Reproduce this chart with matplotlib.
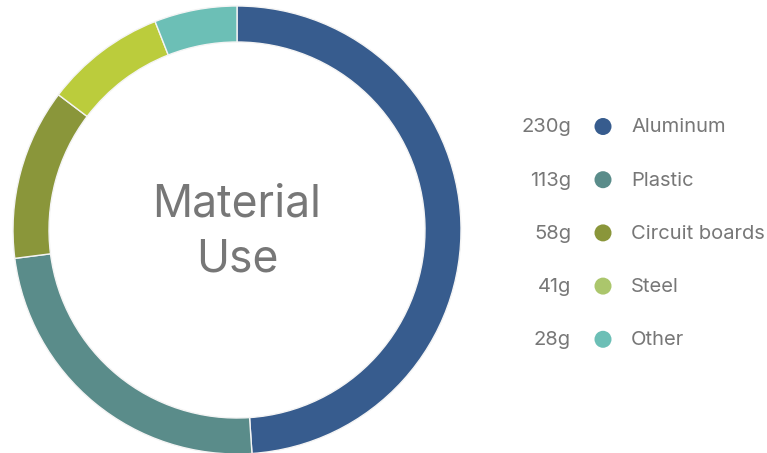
import matplotlib.pyplot as plt

labels = ['Aluminum', 'Plastic', 'Circuit boards', 'Steel', 'Other']
grams = [230, 113, 58, 41, 28]
ring_colors = ['#375c8e', '#5a8c8a', '#8a963a', '#bbcc3c', '#6cbfb6']
dot_colors = ['#375c8e', '#5a8c8a', '#8a963a', '#abc66c', '#6cbfb6']

plt.rcParams['font.family'] = ['Inter', 'DejaVu Sans']
grey = '#777777'

fig = plt.figure(figsize=(7.67, 4.53), dpi=100)
W, H = 767, 453

# donut
cx, cy, r = 237, 230, 224
ax = fig.add_axes([(cx - r) / W, (H - cy - r) / H, 2 * r / W, 2 * r / H])
ax.pie(grams, colors=ring_colors, startangle=90, counterclock=False, radius=1,
       wedgeprops=dict(width=36 / r, edgecolor='#f4f4f4', linewidth=1))
ax.set_aspect('equal')
ax.set_xlim(-1, 1)
ax.set_ylim(-1, 1)
ax.text(0, -0.01, 'Material\nUse', ha='center', va='center', fontsize=32,
        color=grey, linespacing=1.38)

# legend
lg = fig.add_axes([0, 0, 1, 1])
lg.set_xlim(0, W)
lg.set_ylim(H, 0)
lg.axis('off')
y0, dy = 127.5, 53.2
for i, (lab, g) in enumerate(zip(labels, grams)):
    y = y0 + i * dy
    lg.text(571, y, f'{g}g', ha='right', va='center', fontsize=14.5, color=grey)
    lg.scatter(603, y - 1, s=150, color=dot_colors[i], edgecolor='none')
    lg.text(631, y, lab, ha='left', va='center', fontsize=14.5, color=grey)

fig.savefig('out.png', dpi=100)
